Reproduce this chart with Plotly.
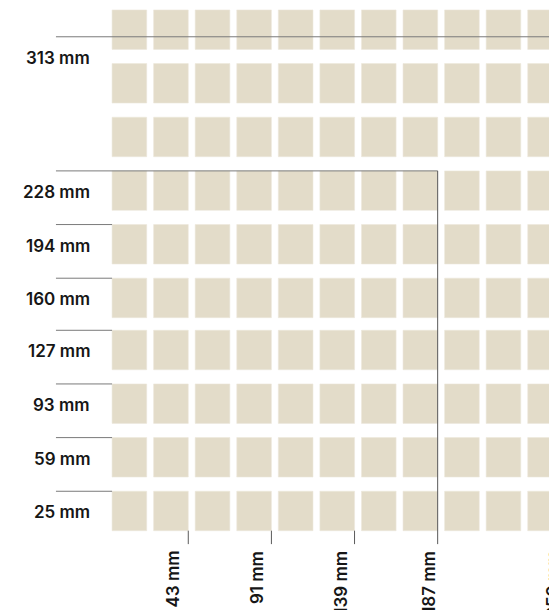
import plotly.graph_objects as go

# ---- data (millimetres) ----
col_right_mm = [19, 43, 67, 91, 115, 139, 163, 187, 211, 235, 259]
cell_width_mm = 20
row_bottom_mm = [0, 34, 68, 102, 135, 169, 203, 237, 271, 305]
row_top_mm = [25, 59, 93, 127, 160, 194, 228, 262, 296, 330]

y_tick_vals = [25, 59, 93, 127, 160, 194, 228, 313]
y_tick_ends = [-1, -1, -1, -1, -1, -1, 187, 259]
y_tick_labels = ["25 mm", "59 mm", "93 mm", "127 mm", "160 mm", "194 mm", "228 mm", "313 mm"]

x_tick_vals = [43, 91, 139, 187, 259]
x_tick_tops = [0, 0, 0, 228, 313]
x_tick_labels = ["43 mm", "91 mm", "139 mm", "187 mm", "259 mm"]

# ---- style / layout constants ----
CELL_COLOR = "#E3DCC9"
LINE_COLOR = "#7a7a7a"
FONT = dict(family="Inter, Roboto, sans-serif", size=17, color="#161616", weight=600)
X_LABEL_SHIFTS = [-15, -14.5, -13.5, -8, -9]   # pixel nudges of the rotated labels
# figure is a little wider than the window (overflow hidden) so the chart runs off the right edge
FIG_W, FIG_H = 565, 610
X_RANGE = [-65.71, 260.52]
Y_RANGE = [-50.25, 336.3]
TICK_LINE_START = -33.4
TICK_LINE_BOTTOM = -8.5

fig = go.Figure()

# cells
xs, bases, heights = [], [], []
for b, t in zip(row_bottom_mm, row_top_mm):
    for r in col_right_mm:
        xs.append(r)
        bases.append(b)
        heights.append(t - b)
fig.add_trace(go.Bar(
    x=xs, y=heights, base=bases, width=cell_width_mm, offset=-cell_width_mm,
    marker=dict(color=CELL_COLOR, line=dict(width=0.6, color="#ECE7DB")),
    hoverinfo="skip", showlegend=False,
))

# horizontal guide lines
hx, hy = [], []
for v, e in zip(y_tick_vals, y_tick_ends):
    hx += [TICK_LINE_START, e, None]
    hy += [v, v, None]
fig.add_trace(go.Scatter(x=hx, y=hy, mode="lines",
                         line=dict(color=LINE_COLOR, width=1),
                         hoverinfo="skip", showlegend=False))

# vertical guide lines
vx, vy = [], []
for v, t in zip(x_tick_vals, x_tick_tops):
    vx += [v, v, None]
    vy += [TICK_LINE_BOTTOM, t, None]
fig.add_trace(go.Scatter(x=vx, y=vy, mode="lines",
                         line=dict(color="#5a5a5a", width=1),
                         hoverinfo="skip", showlegend=False))

annotations = []
for v, lab in zip(y_tick_vals, y_tick_labels):
    annotations.append(dict(x=-12.5, y=v, xref="x", yref="y", text=lab,
                            showarrow=False, xanchor="right", yanchor="middle",
                            yshift=-21, font=FONT))
for v, lab, sh in zip(x_tick_vals, x_tick_labels, X_LABEL_SHIFTS):
    annotations.append(dict(x=v, y=0, xref="x", yref="y", text=lab,
                            showarrow=False, xanchor="center", yanchor="top",
                            textangle=-90, xshift=sh, yshift=-18, font=FONT))

fig.update_layout(
    width=FIG_W, height=FIG_H,
    margin=dict(l=0, r=0, t=0, b=0, pad=0),
    paper_bgcolor="white", plot_bgcolor="white",
    barmode="overlay",
    xaxis=dict(range=X_RANGE, visible=False, fixedrange=True),
    yaxis=dict(range=Y_RANGE, visible=False, fixedrange=True),
    annotations=annotations,
)

fig.write_html(
    "out.html",
    config={"displayModeBar": False, "staticPlot": True},
    post_script="document.body.style.margin='0';"
                "document.documentElement.style.overflow='hidden';",
)
